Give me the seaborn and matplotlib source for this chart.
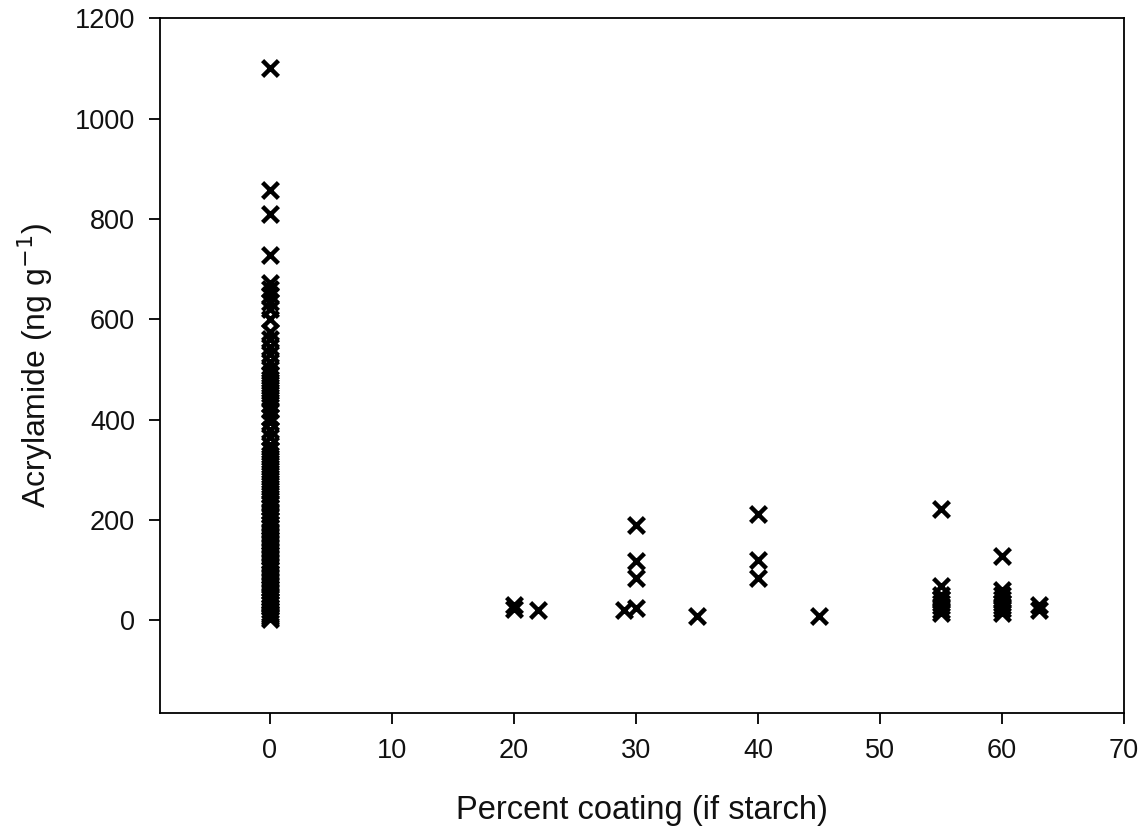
import matplotlib
matplotlib.use("Agg")
import matplotlib.pyplot as plt
import pandas as pd
import seaborn as sns

# coating percent groups and acrylamide values (ng/g)
x0_vals = [1100, 858, 810, 728, 672, 660, 648, 635, 620, 600, 575, 560, 545, 530,
           515, 500, 490, 480, 470, 460, 450, 440, 430, 420, 405, 395, 380, 365,
           350, 340, 330, 320, 310, 300, 290, 280, 270, 260, 250, 240, 232, 225,
           218, 210, 200, 192, 185, 178, 170, 162, 155, 148, 140, 132, 125, 118,
           110, 102, 95, 88, 80, 72, 65, 58, 50, 44, 38, 32, 26, 20, 15, 10, 6, 3]
x20_vals = [30, 22]
x22_vals = [20]
x29_vals = [20]
x30_vals = [190, 117, 85, 25]
x35_vals = [8]
x40_vals = [211, 120, 85]
x45_vals = [8]
x55_vals = [222, 68, 50, 42, 35, 28, 20, 15]
x60_vals = [128, 60, 50, 42, 35, 28, 22, 15]
x63_vals = [30, 20]

groups = {0: x0_vals, 20: x20_vals, 22: x22_vals, 29: x29_vals, 30: x30_vals,
          35: x35_vals, 40: x40_vals, 45: x45_vals, 55: x55_vals,
          60: x60_vals, 63: x63_vals}

coating = []
acryl = []
for k, vals in groups.items():
    for v in vals:
        coating.append(k)
        acryl.append(v)
df = pd.DataFrame({"coating": coating, "acrylamide": acryl})

sns.set_style("ticks")
plt.rcParams['font.family'] = ['Liberation Sans', 'DejaVu Sans']
plt.rcParams['text.color'] = '#111111'
plt.rcParams['axes.labelcolor'] = '#111111'
plt.rcParams['xtick.color'] = 'black'
plt.rcParams['ytick.color'] = 'black'

fig = plt.figure(figsize=(11.44, 8.30), dpi=100)
ax = fig.add_axes([0.1399, 0.141, 0.8426, 0.837])

sns.scatterplot(data=df, x="coating", y="acrylamide", marker="x", color="black",
                s=130, linewidth=3.2, ax=ax, legend=False)

ax.set_xlim(-9, 70)
ax.set_ylim(-185, 1200)
ax.set_xticks(range(0, 71, 10))
ax.set_yticks(range(0, 1201, 200))
ax.tick_params(axis="both", labelsize=19.5, length=8, width=1.3, direction="out",
               pad=10, labelcolor="#111111")
for sp in ax.spines.values():
    sp.set_visible(True)
    sp.set_linewidth(1.3)
    sp.set_color("black")

ax.set_xlabel("Percent coating (if starch)", fontsize=23.5, labelpad=22)
ax.set_ylabel("Acrylamide (ng g$^{-1}$)", fontsize=23, labelpad=14)

plt.savefig("out.png", dpi=100)
